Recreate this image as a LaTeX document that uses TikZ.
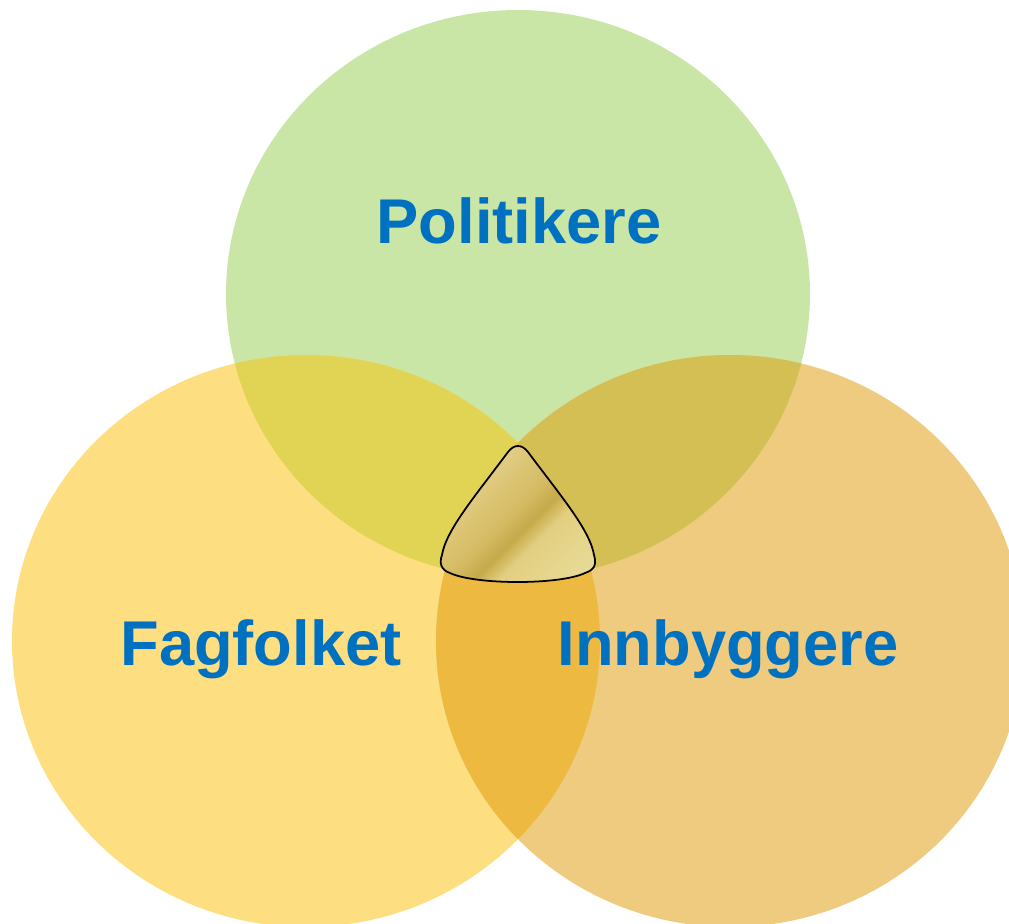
\documentclass[tikz,border=0pt]{standalone}
\usepackage{fontspec}
\setmainfont{Liberation Sans}
\usepackage{xcolor}
\usetikzlibrary{positioning,calc}
\definecolor{polgreen}{HTML}{C9E6A7}
\definecolor{faggul}{HTML}{FDDE80}
\definecolor{innorange}{HTML}{EECB7F}
\definecolor{polfag}{HTML}{E1D353}
\definecolor{polinn}{HTML}{D4BF55}
\definecolor{faginn}{HTML}{EEB940}
\definecolor{tekstblue}{HTML}{0070C0}
\definecolor{gull1}{HTML}{EADA9C}
\definecolor{gull2}{HTML}{E4D08A}
\definecolor{gull3}{HTML}{D5BB64}
\definecolor{gull4}{HTML}{C6A94A}
\definecolor{gull5}{HTML}{E3CF80}
\definecolor{gull6}{HTML}{E6D68E}
\definecolor{gull7}{HTML}{EAE0B6}
\pgfdeclarehorizontalshading{gullband}{100bp}{color(0bp)=(gull1); color(30bp)=(gull2); color(48bp)=(gull3); color(55bp)=(gull4); color(61bp)=(gull5); color(72bp)=(gull6); color(100bp)=(gull7)}
\tikzset{etikett/.style={font=\fontsize{36}{40}\selectfont\bfseries, text=tekstblue, anchor=base, inner sep=0pt}}

\begin{document}
\begin{tikzpicture}[x=0.02cm, y=-0.02cm]
				\useasboundingbox (0,0) rectangle (1009,924);
				\clip (0,0) rectangle (1009,924);
				% Sirkler
				\coordinate (cpol) at (518,294);
				\coordinate (cfag) at (306,641);
				\coordinate (cinn) at (730,641);
				\fill[polgreen] (cpol) ellipse [x radius=292, y radius=284];
				\fill[faggul] (cfag) ellipse [x radius=294, y radius=286];
				\fill[innorange] (cinn) ellipse [x radius=294, y radius=286];
				
				% Overlapp
				\begin{scope}
					\clip (cpol) ellipse [x radius=292, y radius=284];
					\fill[polfag] (cfag) ellipse [x radius=294, y radius=286];
					\fill[polinn] (cinn) ellipse [x radius=294, y radius=286];
				\end{scope}
				\begin{scope}
					\clip (cfag) ellipse [x radius=294, y radius=286];
					\fill[faginn] (cinn) ellipse [x radius=294, y radius=286];
				\end{scope}
				
				% Midten
				\shade[shading=gullband, shading angle=-45, draw=black, line width=1pt]
					(508,452) .. controls (514,444) and (522,444) .. (528,452)
					.. controls (560,495) and (590,530) .. (594,555)
					.. controls (597,565) and (594,570) .. (585,573)
					.. controls (560,585) and (475,585) .. (450,573)
					.. controls (441,570) and (439,563) .. (442,555)
					.. controls (446,530) and (476,495) .. (508,452) -- cycle;
				
				% Tekst
				\node[etikett] (pol) at (519,243) {Politikere};
				\node[etikett] (fag) at (261,665) {Fagfolket};
				\node[etikett] (inn) at (728,665) {Innbyggere};
			\end{tikzpicture}
\end{document}
